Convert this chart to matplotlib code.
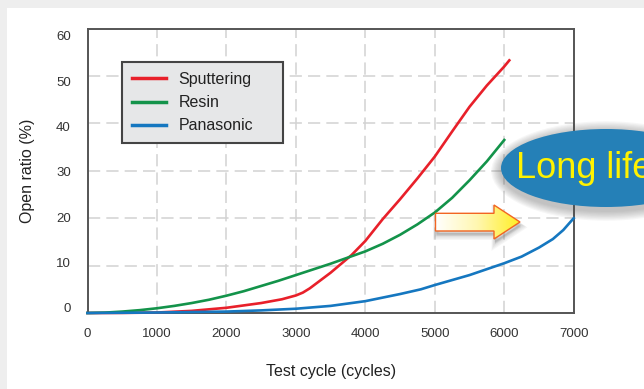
import numpy as np
import matplotlib.pyplot as plt
import matplotlib.transforms as mtransforms
from matplotlib.patches import Rectangle, Ellipse, Polygon
from matplotlib.colors import LinearSegmentedColormap

plt.rcParams['font.family'] = ['Liberation Sans', 'DejaVu Sans']

# data
cycles_sputter = [0, 500, 1000, 1500, 2000, 2500, 2800, 3000, 3100, 3200, 3300, 3500, 3800, 4000, 4250,
                  4500, 4750, 5000, 5250, 5500, 5750, 6000, 6073]
open_sputter = [0, 0.02, 0.1, 0.45, 1.1, 2.1, 2.9, 3.7, 4.3, 5.2, 6.3, 8.5, 12.2, 15.2, 19.8,
                24.0, 28.4, 33.0, 38.3, 43.5, 48.0, 52.0, 53.3]

cycles_resin = [0, 250, 500, 750, 1000, 1250, 1500, 1750, 2000, 2250, 2500, 2750, 3000, 3250, 3500,
                3750, 4000, 4250, 4500, 4750, 5000, 5250, 5500, 5750, 6000]
open_resin = [0, 0.08, 0.3, 0.6, 1.0, 1.5, 2.1, 2.8, 3.65, 4.6, 5.7, 6.8, 8.0, 9.2, 10.4,
              11.7, 13.0, 14.6, 16.5, 18.7, 21.2, 24.3, 28.0, 32.0, 36.5]

cycles_pana = [0, 500, 1000, 1500, 2000, 2500, 3000, 3500, 4000, 4500, 4800, 5000, 5500, 6000,
               6250, 6500, 6700, 6850, 7000]
open_pana = [0, 0.05, 0.1, 0.2, 0.3, 0.55, 0.9, 1.5, 2.5, 4.0, 5.0, 5.9, 8.0, 10.5,
             11.9, 13.8, 15.6, 17.5, 20.0]

x_ticks = [0, 1000, 2000, 3000, 4000, 5000, 6000, 7000]
y_ticks = [0, 10, 20, 30, 40, 50, 60]

W, H = 644, 389
fig = plt.figure(figsize=(W / 100, H / 100), dpi=100, facecolor='#eeeeee')

# white panel behind the chart
fig.patches.append(Rectangle((7 / W, 0), 1, (H - 8) / H, transform=fig.transFigure,
                             facecolor='white', edgecolor='none', zorder=-10))

ax = fig.add_axes([87.5 / W, (H - 313) / H, 486.2 / W, 284.4 / H])
ax.set_facecolor('white')

ax.plot(cycles_sputter, open_sputter, color='#e8202a', lw=1.9, label='Sputtering', clip_on=False, zorder=3)
ax.plot(cycles_resin, open_resin, color='#13934a', lw=1.9, label='Resin', clip_on=False, zorder=3)
ax.plot(cycles_pana, open_pana, color='#1577c0', lw=1.9, label='Panasonic', clip_on=False, zorder=3)

ax.set_xlim(0, 7000)
ax.set_ylim(0, 60)
ax.set_xticks(x_ticks)
ax.set_yticks(y_ticks)
ax.tick_params(length=0, labelsize=9.5, colors='#333333')
ax.tick_params(axis='x', pad=11)
ax.tick_params(axis='y', pad=12)
ax.grid(True, color='#d2d2d2', lw=1.1, linestyle=(0, (8, 4)))
ax.set_axisbelow(True)
for s in ax.spines.values():
    s.set_color('#555555')
    s.set_linewidth(1.4)

# y labels in the original sit a little off their grid lines
for v, lab in zip(y_ticks, ax.get_yticklabels()):
    off_px = -5 + v * 12.1 / 60
    lab.set_transform(lab.get_transform() +
                      mtransforms.ScaledTranslation(0, -off_px / 100, fig.dpi_scale_trans))

ax.set_xlabel('Test cycle (cycles)', fontsize=11.5, color='#222222')
ax.set_ylabel('Open ratio (%)', fontsize=11.5, color='#222222')
ax.xaxis.set_label_coords(0.5, -(364 - 313) / 284.4)
ax.yaxis.set_label_coords((35 - 87.5) / 486.2, 0.5)

leg = ax.legend(loc='upper left',
                bbox_to_anchor=((122.4 - 87.5) / 486.2, (313 - 62.3) / 284.4 - 0.01, 161 / 486.2, 0.01),
                mode='expand', borderaxespad=0, fontsize=11.5, handlelength=2.1, handletextpad=0.8,
                labelspacing=0.52, borderpad=0.6, fancybox=False, framealpha=1)
leg.get_frame().set_facecolor('#e6e7e8')
leg.get_frame().set_edgecolor('#444444')
leg.get_frame().set_linewidth(1.5)
for h in leg.get_lines():
    h.set_linewidth(2.5)
for t in leg.get_texts():
    t.set_color('#222222')

# overlay in pixel units for the callouts
ov = fig.add_axes([0, 0, 1, 1], zorder=5)
ov.axis('off')

# "Long life" bubble with soft shadow
for i in range(8):
    ov.add_patch(Ellipse((606, 171), 212 + 2.5 * i, 82 + 2.5 * i, facecolor='#555555',
                         edgecolor='none', alpha=0.05))
ov.add_patch(Ellipse((606, 168), 210, 78, facecolor='#2580b7', edgecolor='none'))
ov.text(516, 168, 'Long life', color='#fff200', fontsize=26, va='center', ha='left')

# gradient arrow with shadow
arrow_pts = [(435.5, 213.3), (494, 213.3), (494, 205), (520, 222), (494, 239), (494, 231), (435.5, 231)]
for i in range(5):
    ov.add_patch(Polygon([(x + 1, y + 3 + i * 0.6) for x, y in arrow_pts], closed=True,
                         facecolor='#777777', edgecolor='#777777', lw=1 + i, alpha=0.07))
poly = Polygon(arrow_pts, closed=True, facecolor='none', edgecolor='#f26522', lw=1.0, zorder=3)
ov.add_patch(poly)
grad = np.linspace(0, 1, 256).reshape(1, -1)
cmap = LinearSegmentedColormap.from_list('wy', ['#ffffff', '#fff7b0', '#ffee22'])
im = ov.imshow(grad, extent=(435.5, 520, 239, 205), cmap=cmap, aspect='auto', zorder=2)
im.set_clip_path(poly)
ov.set_xlim(0, W)
ov.set_ylim(H, 0)

fig.savefig('out.png', dpi=100, facecolor=fig.get_facecolor())
